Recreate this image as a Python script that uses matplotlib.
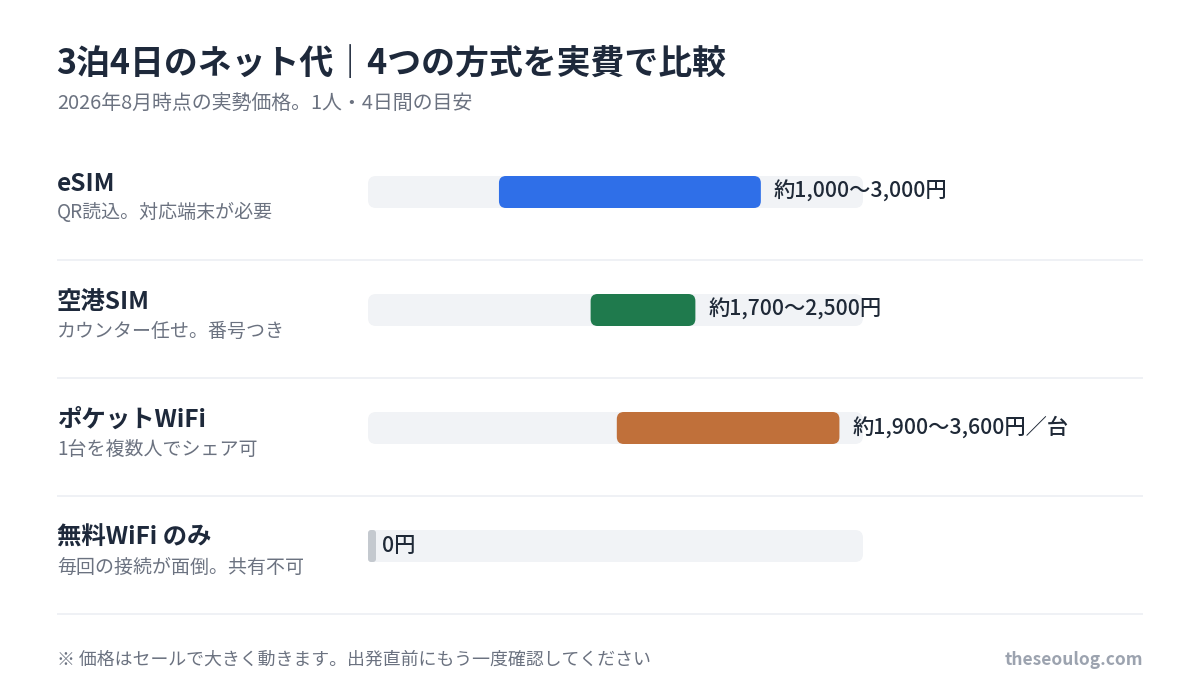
import matplotlib
matplotlib.use("Agg")
import matplotlib.pyplot as plt
from matplotlib.patches import FancyBboxPatch
from matplotlib import transforms

plt.rcParams['font.family'] = ['Noto Sans CJK JP', 'DejaVu Sans']

# ---- data ----
title = "3泊4日のネット代｜4つの方式を実費で比較"
subtitle = "2026年8月時点の実勢価格。1人・4日間の目安"
names = ["eSIM", "空港SIM", "ポケットWiFi", "無料WiFi のみ"]
notes = ["QR読込。対応端末が必要", "カウンター任せ。番号つき", "1台を複数人でシェア可", "毎回の接続が面倒。共有不可"]
low = [1000, 1700, 1900, 0]
high = [3000, 2500, 3600, 0]
suffix = ["", "", "／台", ""]
colors = ["#2f6fe8", "#1f7a4d", "#c0703a", "#c4c9cf"]
footer = "※ 価格はセールで大きく動きます。出発直前にもう一度確認してください"
credit = "theseoulog.com"

W, H = 1200, 696
fig = plt.figure(figsize=(W / 100, H / 100), dpi=100)
fig.patch.set_facecolor("white")

def fx(p):
    return p / W

def fy(p):
    return 1 - p / H

# bar axes
ax_left, ax_right, ax_top, ax_bot = 368, 863, 133, 605
ax = fig.add_axes([fx(ax_left), fy(ax_bot), (ax_right - ax_left) / W, (ax_bot - ax_top) / H])
xmax = max(high) * 1.05
n = len(names)
ax.set_xlim(0, xmax)
ax.set_ylim(n - 0.5, -0.5)
ax.axis("off")

px_per_x = (ax_right - ax_left) / xmax
px_per_row = (ax_bot - ax_top) / n
aspect = px_per_x / px_per_row
bar_h = 32 / px_per_row

def rbox(x0, w, yc, color, r_px):
    p = FancyBboxPatch((x0, yc - bar_h / 2), w, bar_h,
                       boxstyle=f"round,pad=0,rounding_size={r_px / px_per_x}",
                       mutation_aspect=aspect, facecolor=color, edgecolor="none",
                       clip_on=False)
    ax.add_patch(p)

blend = transforms.blended_transform_factory(fig.transFigure, ax.transData)
min_w = 8 / px_per_x

for i in range(n):
    rbox(0, xmax, i, "#f1f3f6", 8)
    w = high[i] - low[i]
    if w <= 0:
        w = min_w
        rr = 3
    else:
        rr = 7
    rbox(low[i], w, i, colors[i], rr)
    if high[i] > 0:
        lab = f"約{low[i]:,}〜{high[i]:,}円{suffix[i]}"
        off = 13
    else:
        lab = f"{high[i]}円{suffix[i]}"
        off = 6
    tr = transforms.offset_copy(ax.transData, fig=fig, x=off, y=0, units="dots")
    ax.text(low[i] + w, i - 0.5 / px_per_row, lab, transform=tr, ha="left", va="center",
            fontsize=15.3, fontweight="medium", color="#1f2937")
    # names
    ax.text(fx(57), i - 8 / px_per_row, names[i], transform=blend, ha="left", va="center",
            fontsize=17.6, fontweight="bold", color="#1e293b")
    ax.text(fx(57), i + 21 / px_per_row, notes[i], transform=blend, ha="left", va="center",
            fontsize=13.65, color="#6b7280")
    # separators
    ax.plot([fx(57), fx(1143)], [i + 68 / px_per_row] * 2, transform=blend,
            color="#eceff3", lw=1.2, clip_on=False, solid_capstyle="butt")

fig.text(fx(56), fy(64), title, ha="left", va="center", fontsize=24.4, fontweight="bold",
         color="#1e293b")
fig.text(fx(57), fy(104), subtitle, ha="left", va="center", fontsize=14.35, color="#6b7280")
fig.text(fx(57), fy(660), footer, ha="left", va="center", fontsize=12.9, color="#6b7280")
fig.text(fx(1143), fy(660), credit, ha="right", va="center", fontsize=12.5,
         fontweight="bold", color="#9ca3af")

fig.savefig("out.png", dpi=100, facecolor="white")
